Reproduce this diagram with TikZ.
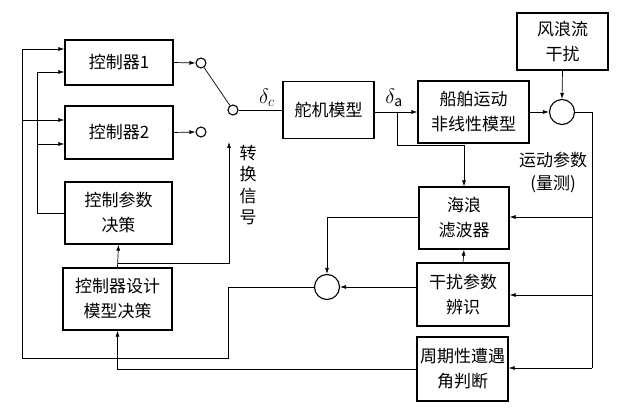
\documentclass[tikz,border=0pt]{standalone}
\usepackage{fontspec}
\setmainfont{Noto Sans CJK SC}
\usetikzlibrary{arrows.meta,calc}
\begin{document}
\begin{tikzpicture}[x=1pt,y=-1pt,
  box/.style={draw,line width=1.3pt,inner sep=0pt,align=center,font=\fontsize{17}{25}\selectfont},
  sw/.style={draw,circle,line width=1.1pt,minimum size=10pt,inner sep=0pt},
  sum/.style={draw,circle,line width=1.1pt,minimum size=25pt,inner sep=0pt},
  ln/.style={line width=0.7pt},
  arr/.style={ln,-{Latex[length=6pt,width=4pt]}},
  lbl/.style={font=\fontsize{17}{24}\selectfont,align=center,inner sep=0pt}]
\useasboundingbox (0,0) rectangle (632,414);
% boxes
\node[box,minimum width=108pt,minimum height=45pt] (c1) at (119,62.5) {控制器1};
\node[box,minimum width=108pt,minimum height=53pt] (c2) at (119,132.5) {控制器2};
\node[box,minimum width=107pt,minimum height=62pt] (cp) at (118.5,213) {控制参数\\决策};
\node[box,minimum width=109pt,minimum height=62pt] (cd) at (117.5,299) {控制器设计\\模型决策};
\node[box,minimum width=91pt,minimum height=57pt] (dj) at (328.5,110) {舵机模型};
\node[box,minimum width=111pt,minimum height=62pt] (ship) at (473.5,112) {船舶运动\\非线性模型};
\node[box,minimum width=91pt,minimum height=57pt] (wind) at (562.5,41.5) {风浪流\\干扰};
\node[box,minimum width=90pt,minimum height=62pt] (wave) at (464,218) {海浪\\滤波器};
\node[box,minimum width=92pt,minimum height=63pt] (dist) at (463,294.5) {干扰参数\\辨识};
\node[box,minimum width=91pt,minimum height=64pt] (per) at (462.5,369) {周期性遭遇\\角判断};
% circles
\node[sw] (s1) at (201,63) {};
\node[sw] (s2) at (201,132) {};
\node[sw] (s0) at (233,110) {};
\node[sum] (st) at (562,112) {};
\node[sum] (sb) at (327,287) {};
% labels
\node[lbl,font=\fontsize{20}{24}\selectfont] (dc) at (267,98) {$\delta_c$};
\node[lbl,font=\fontsize{20}{24}\selectfont] (da) at (394,98) {$\delta_{\mathrm{a}}$};
\node[lbl,font=\fontsize{17}{21.5}\selectfont] (zh) at (248,185) {转\\换\\信\\号};
\node[lbl] (yd) at (553,160) {运动参数};
\node[lbl] (lc) at (553,184) {(量测)};
% connectors
\draw[arr] (c1.east) -- (s1.west);
\draw[arr] (c2.east) -- (s2.west);
\draw[ln] (s1) -- (s0);
\draw[ln] (s0.east) -- (dj.west |- s0);
\draw[arr] (dj.east |- ship.west) -- (ship.west);
\draw[arr] (ship.east) -- (st.west);
\draw[arr] (wind.south) -- (st.north);
\coordinate (rb) at (592,112);
\draw[ln] (st.east) -- (rb) -- (592,368);
\draw[arr] (592,217) -- (wave.east |- 0,217);
\draw[arr] (592,295) -- (dist.east |- 0,295);
\draw[arr] (592,368) -- (per.east |- 0,368);
% delta_a branch
\draw[arr] (397,112) -- (397,145) -- (464,145) -- (wave.north);
\draw[arr] (dist.north) -- (wave.south);
\draw[arr] (wave.west |- 0,217) -- (327,217) -- (sb.north);
\draw[arr] (dist.west |- sb) -- (sb.east);
% bottom circle to controllers
\draw[arr] (sb.west) -- (228,287) -- (228,358) -- (22,358) -- (22,49) -- (c1.west |- 0,49);
\draw[arr] (22,120) -- (c2.west |- 0,120);
\draw[arr] (cp.west) -- (37,213) -- (37,72) -- (c1.west |- 0,72);
\draw[arr] (37,144) -- (c2.west |- 0,144);
% design decision
\draw[arr] (cd.north) -- (cp.south);
\draw[arr] (117.5,263) -- (229,263) -- (229,142);
\draw[arr] (per.west) -- (117.5,369) -- (cd.south);
\end{tikzpicture}
\end{document}
